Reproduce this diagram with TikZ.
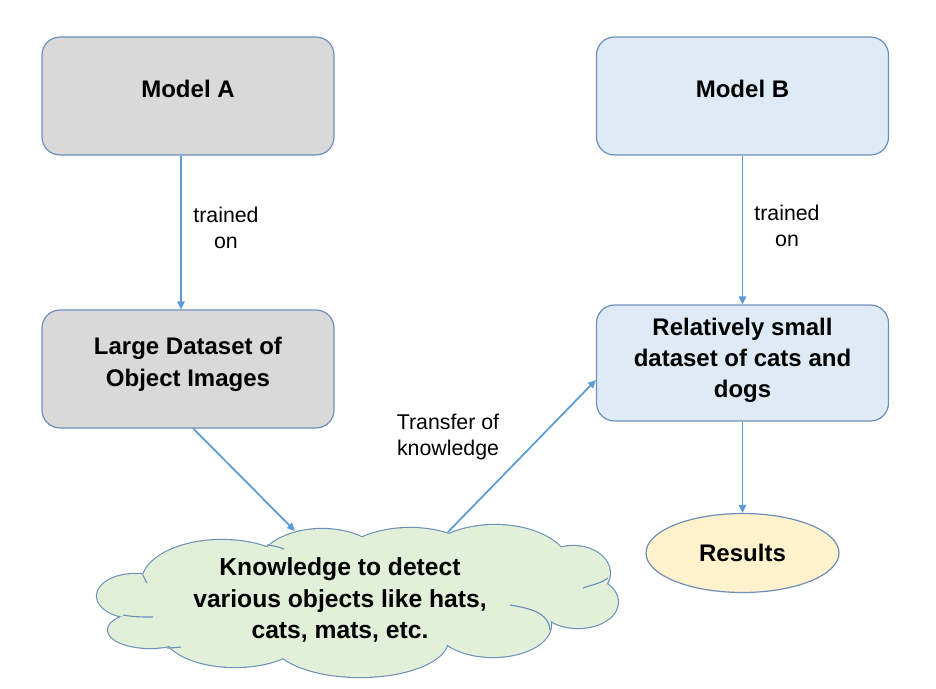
\documentclass[tikz,border=0pt]{standalone}
\usepackage{fontspec}
\setmainfont{Liberation Sans}
\usetikzlibrary{shapes.geometric,arrows.meta}
\definecolor{bordc}{RGB}{109,142,185}
\definecolor{arrc}{RGB}{91,155,213}
\definecolor{grayf}{RGB}{217,217,217}
\definecolor{bluef}{RGB}{222,235,247}
\definecolor{yelf}{RGB}{255,242,204}
\definecolor{grnf}{RGB}{226,240,217}
\begin{document}
\begin{tikzpicture}[x=0.75pt,y=-0.75pt,
  box/.style={draw=bordc, line width=0.9pt, rounded corners=13.5pt,
    minimum width=219pt, minimum height=88.5pt, align=center,
    font=\bfseries\fontsize{18}{23.5}\selectfont, text depth=11pt, inner sep=0pt},
  lab/.style={align=center, font=\fontsize{16}{19.5}\selectfont, inner sep=0pt},
  arr/.style={draw=arrc, line width=1.3pt, -{Triangle[length=6pt,width=5.5pt]}},
  puffline/.style={draw=bordc, line width=1.7pt},
  innerline/.style={draw=bordc, line width=0.85pt}]
\useasboundingbox (0,0) rectangle (936,689);

\node[box, fill=grayf] (A) at (188,96) {Model A};
\node[box, fill=bluef] (B) at (742.5,96) {Model B};
\node[box, fill=grayf] (L) at (188,369) {Large Dataset of\\Object Images};
\node[box, fill=bluef, minimum height=87pt, text depth=8pt] (S) at (742.5,363) {Relatively small\\dataset of cats and\\dogs};
\node[ellipse, draw=bordc, line width=0.9pt, fill=yelf, minimum width=144.75pt,
  minimum height=59.25pt, inner sep=0pt, font=\bfseries\fontsize{18}{23.5}\selectfont] (R) at (742.5,553) {Results};

% cloud: union of puffs
\def\puffs{135/596/38/22, 222/582/80/42, 150/630/42/18, 235/632/72/35,
  360/640/88/37, 493/625/58/32, 578/602/40/26, 573/573/37/27,
  495/568/75/43, 410/575/80/47, 322/570/66/41, 355/600/215/45}
\foreach \cx/\cy/\rx/\ry in \puffs
  \draw[puffline] (\cx,\cy) ellipse [x radius=\rx, y radius=\ry];
\foreach \cx/\cy/\rx/\ry in \puffs
  \fill[grnf] (\cx,\cy) ellipse [x radius=\rx, y radius=\ry];
\draw[innerline] (143,575) to[out=-70,in=120] (147,583);
\draw[innerline] (123,615) to[out=-10,in=180] (153,617);
\draw[innerline] (167,648) to[out=0,in=185] (181,647);
\draw[innerline] (267,545) to[out=-5,in=160] (284,549);
\draw[innerline] (583,588) to[out=20,in=215] (608,578);
\draw[innerline] (510,605) to[out=-10,in=95] (550,630);

\node[align=center, font=\bfseries\fontsize{18.5}{23.3}\selectfont, inner sep=0pt] (C) at (340,600)
  {Knowledge to detect\\various objects like hats,\\cats, mats, etc.};

\coordinate (c1) at (295,531);
\coordinate (c2) at (448,532);

\draw[arr] ([xshift=-5.25pt]A.south) -- ([xshift=-5.25pt]L.north);
\draw[arr] (B.south) -- (S.north);
\draw[arr] ([xshift=4pt]L.south) -- (c1);
\draw[arr] (c2) -- ([yshift=-12.75pt]S.west);
\draw[arr] (S.south) -- (R.north);

\node[lab] (t1) at (226,228) {trained\\on};
\node[lab] (t2) at (787,226) {trained\\on};
\node[lab] (t3) at (448,437) {Transfer of\\knowledge};
\end{tikzpicture}
\end{document}
